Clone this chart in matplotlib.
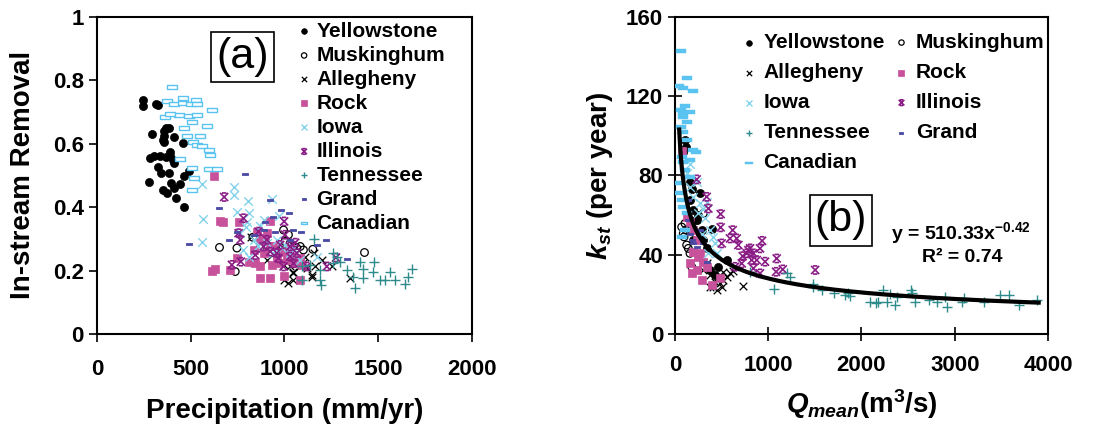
import matplotlib
matplotlib.use("Agg")
import matplotlib.pyplot as plt
import numpy as np
from matplotlib.path import Path

plt.rcParams["font.family"] = ["Liberation Sans", "DejaVu Sans"]
plt.rcParams["font.weight"] = "bold"
plt.rcParams["mathtext.fontset"] = "custom"
plt.rcParams["mathtext.it"] = "Liberation Sans:italic:bold"
plt.rcParams["mathtext.rm"] = "Liberation Sans:bold"
plt.rcParams["mathtext.bf"] = "Liberation Sans:bold"

# ---------------- panel (a): in-stream removal vs precipitation ----------------
a_yel_x = [245, 245, 316, 327, 293, 370, 356, 359, 382, 409, 352, 359, 457, 388, 284, 306, 338,
           370, 391, 405, 324, 341, 382, 409, 462, 489, 276, 350, 373, 395, 412, 441, 421, 462]
a_yel_y = [0.739, 0.72, 0.725, 0.722, 0.63, 0.65, 0.64, 0.623, 0.65, 0.62, 0.613, 0.604, 0.602,
           0.573, 0.555, 0.56, 0.562, 0.558, 0.56, 0.549, 0.526, 0.509, 0.509, 0.539, 0.499,
           0.513, 0.478, 0.455, 0.446, 0.476, 0.46, 0.474, 0.428, 0.4]

a_mus_x = [654, 738, 747, 832, 996, 1022, 1004, 1031, 1049, 987, 1085, 1102, 1152, 1428, 933, 871, 1067]
a_mus_y = [0.273, 0.197, 0.271, 0.305, 0.328, 0.313, 0.292, 0.286, 0.276, 0.265, 0.276, 0.265,
           0.267, 0.257, 0.257, 0.271, 0.271]

a_all_x = [821, 907, 996, 1031, 1049, 1049, 996, 1022, 1085, 1111, 1165, 1147, 1147, 1200, 1254,
           1351, 1156, 1102, 1049, 1120]
a_all_y = [0.305, 0.234, 0.218, 0.213, 0.197, 0.171, 0.171, 0.162, 0.213, 0.244, 0.213, 0.186,
           0.181, 0.234, 0.213, 0.176, 0.255, 0.223, 0.192, 0.207]

a_roc_x = [626, 658, 672, 756, 921, 853, 898, 907, 942, 996, 1031, 836, 889, 960, 1013, 1085, 1093,
           1058, 1049, 750, 809, 845, 613, 631, 708, 871, 933, 978, 921, 871, 996, 1085, 925, 871]
a_roc_y = [0.497, 0.357, 0.354, 0.352, 0.355, 0.321, 0.302, 0.318, 0.276, 0.26, 0.27, 0.265, 0.255,
           0.244, 0.234, 0.239, 0.218, 0.223, 0.244, 0.239, 0.228, 0.223, 0.2, 0.204, 0.202, 0.213,
           0.218, 0.223, 0.176, 0.176, 0.183, 0.171, 0.276, 0.297]

a_iow_x = [560, 729, 734, 805, 935, 565, 560, 747, 809, 800, 796, 871, 889, 974, 765, 836, 907, 960,
           1004, 782, 809, 1031, 1085, 1049, 1173, 942, 987, 862]
a_iow_y = [0.474, 0.462, 0.439, 0.418, 0.425, 0.362, 0.289, 0.386, 0.381, 0.352, 0.337, 0.339,
           0.358, 0.371, 0.318, 0.297, 0.286, 0.297, 0.281, 0.265, 0.244, 0.255, 0.234, 0.27,
           0.244, 0.255, 0.27, 0.276]

a_ill_x = [679, 782, 756, 765, 862, 999, 1004, 907, 978, 889, 925, 960, 1031, 1058, 1067, 845, 768,
           720, 996, 1120, 1227, 1276, 1049, 969, 1031]
a_ill_y = [0.432, 0.365, 0.318, 0.297, 0.323, 0.355, 0.313, 0.297, 0.281, 0.276, 0.26, 0.255, 0.276,
           0.288, 0.255, 0.249, 0.228, 0.218, 0.213, 0.213, 0.213, 0.241, 0.223, 0.239, 0.244]

a_ten_x = [1156, 1093, 1093, 1191, 1195, 1262, 1262, 1298, 1333, 1369, 1378, 1405, 1422, 1422, 1479,
           1476, 1511, 1538, 1565, 1591, 1645, 1662, 1680, 1191, 1138, 1280]
a_ten_y = [0.299, 0.213, 0.171, 0.171, 0.155, 0.255, 0.223, 0.228, 0.202, 0.181, 0.144, 0.228, 0.204,
           0.178, 0.228, 0.197, 0.171, 0.171, 0.197, 0.171, 0.158, 0.181, 0.204, 0.202, 0.218, 0.244]

a_gra_x = [791, 649, 489, 704, 747, 921, 981, 1024, 898, 951, 1045, 1088, 1223, 942, 889, 836, 1333,
           1173, 1031]
a_gra_y = [0.505, 0.397, 0.284, 0.297, 0.323, 0.421, 0.392, 0.383, 0.352, 0.323, 0.328, 0.323, 0.295,
           0.37, 0.328, 0.313, 0.236, 0.281, 0.297]

a_can_x = [400, 373, 409, 459, 459, 501, 530, 533, 436, 489, 533, 361, 391, 462, 480, 507, 548, 587,
           613, 512, 533, 560, 596, 605, 445, 507, 596, 640, 516, 507]
a_can_y = [0.778, 0.734, 0.726, 0.743, 0.728, 0.726, 0.739, 0.725, 0.692, 0.686, 0.692, 0.684, 0.694,
           0.649, 0.625, 0.667, 0.623, 0.655, 0.705, 0.605, 0.595, 0.592, 0.579, 0.563, 0.552,
           0.523, 0.52, 0.52, 0.492, 0.453]

# ---------------- panel (b): k_st vs Q_mean ----------------
b_yel_x = [107, 118, 82, 161, 179, 268, 161, 197, 233, 286, 394, 304, 340, 555, 465, 376, 429, 250, 197]
b_yel_y = [97.8, 94.4, 92, 76.8, 73.4, 70.9, 67.5, 62.5, 57.5, 52.4, 52.8, 47.4, 43.2, 37.3, 33.9,
           32.3, 29.7, 60, 47.4]

b_mus_x = [107, 118, 97, 125, 143, 161, 179, 72, 89, 233, 304, 268, 197]
b_mus_y = [55.8, 52.4, 49, 44.9, 43.2, 40.7, 33.9, 54, 50.7, 57.5, 60.8, 50.7, 59.1]

b_all_x = [304, 376, 411, 447, 483, 519, 555, 590, 626, 726, 465, 429, 340, 519, 376, 501]
b_all_y = [32.3, 29.7, 23.9, 22.2, 25.5, 27.2, 28.9, 30.6, 31.9, 24.2, 28.9, 26.4, 35.6, 31.4, 23.9, 23.9]

b_roc_x = [72, 125, 161, 197, 233, 197, 250, 304, 179, 233, 286, 394, 483, 340, 161, 268]
b_roc_y = [92.4, 59.1, 56.6, 52.4, 47.4, 41.5, 39, 36.5, 30.6, 32.3, 27.2, 24.7, 28.1, 33.9, 35.6, 40.7]

b_iow_x = [161, 125, 233, 340, 304, 250, 322, 376, 411, 429, 358, 447, 197, 268, 286, 161]
b_iow_y = [86, 81, 76.8, 66.7, 63.3, 60.8, 58.3, 52.4, 49, 45.7, 40.7, 40.7, 69.2, 65.9, 50.7, 74.3]

b_ill_x = [233, 358, 490, 490, 619, 590, 662, 680, 501, 726, 787, 805, 841, 823, 877, 912, 934, 966,
           841, 716, 912, 1091, 1084, 1156, 1503, 769, 644, 340]
b_ill_y = [78, 63.3, 60.5, 53.8, 52.4, 48.2, 48.2, 44.9, 45.7, 39.3, 42.3, 43.2, 40.7, 37.3, 37.3,
           43.2, 47, 36.5, 33.1, 35.6, 30.6, 38.1, 31.4, 32.6, 32.3, 40.7, 33.9, 69.2]

b_ten_x = [1234, 1063, 1199, 1478, 1485, 1700, 1825, 1878, 1860, 2093, 2157, 2236, 2182, 2272, 2308,
           2361, 2379, 2530, 2540, 2576, 2719, 2809, 2898, 2916, 3077, 3488, 3578, 3685, 3882, 3310,
           3095, 805, 1574]
b_ten_y = [28.6, 22.5, 30.6, 25.2, 23.9, 20.5, 19.7, 19.2, 20.5, 16.3, 15.8, 22.2, 16.3, 16.3, 20.2,
           14.6, 18.8, 22.2, 20.5, 16.3, 17.1, 16.3, 18.8, 13.8, 16.3, 19.7, 19.7, 14.6, 17.1, 16.3,
           18, 31.4, 22.2]

b_gra_x = [107, 143, 161, 197, 233, 304, 340, 143, 179, 268]
b_gra_y = [60.8, 57.5, 50.7, 45.7, 44, 45.7, 36.5, 67.5, 47.4, 52.4]

b_can_x = [61, 125, 47, 89, 197, 107, 61, 89, 161, 82, 125, 61, 89, 125, 225, 72, 89, 107, 161, 54,
           54, 72, 89, 125, 107, 72, 161, 197]
b_can_y = [142.6, 129, 125, 124, 122.6, 115, 113, 111.5, 112, 109.5, 107, 104.5, 102, 97.8, 92, 89.4,
           86.9, 82.7, 79.3, 76, 71, 67.5, 64, 60.8, 52.4, 49, 87.7, 92.7]

# power-law fit shown on panel (b)
fit_a = 510.33
fit_b = -0.42
fit_xmin, fit_xmax = 45, 3900

names = ["Yellowstone", "Muskinghum", "Allegheny", "Rock", "Iowa", "Illinois",
         "Tennessee", "Grand", "Canadian"]

# marker shapes
star_x = Path([(-1, -1), (1, 1), (-1, 1), (1, -1), (-0.55, 1), (0.55, 1), (-0.55, -1), (0.55, -1)],
              [Path.MOVETO, Path.LINETO, Path.MOVETO, Path.LINETO,
               Path.MOVETO, Path.LINETO, Path.MOVETO, Path.LINETO])
bar_box = Path([(-1, -0.35), (1, -0.35), (1, 0.35), (-1, 0.35), (-1, -0.35)])
dash = Path([(-1, -0.3), (1, -0.3), (1, 0.3), (-1, 0.3), (-1, -0.3)])

PINK = "#C8519C"
PURPLE = "#8A1C86"
LBLUE = "#85D3EA"
CBLUE = "#5BC3EF"
TEAL = "#2E8B8B"
GBLUE = "#4B4BA5"

styles = {
    "Yellowstone": dict(marker="o", s=34, c="black", edgecolors="black", linewidths=0.5),
    "Muskinghum": dict(marker="o", s=30, facecolors="none", edgecolors="black", linewidths=0.9),
    "Allegheny": dict(marker="x", s=30, c="black", linewidths=0.9),
    "Rock": dict(marker="s", s=38, c=PINK, edgecolors=PINK, linewidths=0.5),
    "Iowa": dict(marker="x", s=38, c=LBLUE, linewidths=1.0),
    "Illinois": dict(marker=star_x, s=34, facecolors="none", edgecolors=PURPLE, linewidths=1.2),
    "Tennessee": dict(marker="+", s=42, c=TEAL, linewidths=1.0),
    "Grand": dict(marker=dash, s=16, c=GBLUE, edgecolors=GBLUE, linewidths=0.6),
}
can_a = dict(marker=bar_box, s=48, facecolors="white", edgecolors=CBLUE, linewidths=1.0)
can_b = dict(marker=dash, s=60, c=CBLUE, edgecolors=CBLUE, linewidths=0.3)

fig = plt.figure(figsize=(11.02, 4.28), dpi=100)
ax1 = fig.add_axes([0.088, 0.2196, 0.340, 0.741])
ax2 = fig.add_axes([0.6125, 0.2196, 0.3385, 0.741])

series_a = [(a_yel_x, a_yel_y), (a_mus_x, a_mus_y), (a_all_x, a_all_y), (a_roc_x, a_roc_y),
            (a_iow_x, a_iow_y), (a_ill_x, a_ill_y), (a_ten_x, a_ten_y), (a_gra_x, a_gra_y),
            (a_can_x, a_can_y)]
series_b = [(b_yel_x, b_yel_y), (b_mus_x, b_mus_y), (b_all_x, b_all_y), (b_roc_x, b_roc_y),
            (b_iow_x, b_iow_y), (b_ill_x, b_ill_y), (b_ten_x, b_ten_y), (b_gra_x, b_gra_y),
            (b_can_x, b_can_y)]

handles_a, handles_b = [], []
for name, (xa, ya), (xb, yb) in zip(names, series_a, series_b):
    sa = can_a if name == "Canadian" else styles[name]
    sb = can_b if name == "Canadian" else styles[name]
    handles_a.append(ax1.scatter(xa, ya, label=name, zorder=3, **sa))
    handles_b.append(ax2.scatter(xb, yb, label=name, zorder=3, **sb))

fx = np.linspace(fit_xmin, fit_xmax, 400)
ax2.plot(fx, fit_a * fx ** fit_b, color="black", lw=3, zorder=4)

# axes styling
for ax in (ax1, ax2):
    for sp in ax.spines.values():
        sp.set_linewidth(1.5)
        sp.set_color("black")
    ax.tick_params(labelsize=16, width=1.2, length=6)

ax1.set_xlim(0, 2000)
ax1.set_ylim(0, 1)
ax1.set_xticks([0, 500, 1000, 1500, 2000])
ax1.set_yticks([0, 0.2, 0.4, 0.6, 0.8, 1])
ax1.set_yticklabels(["0", "0.2", "0.4", "0.6", "0.8", "1"])
ax1.tick_params(axis="x", direction="out", pad=12)
ax1.tick_params(axis="y", direction="out")
ax1.set_xlabel("Precipitation (mm/yr)", fontsize=20, fontweight="bold", labelpad=13)
ax1.set_ylabel("In-stream Removal", fontsize=20, fontweight="bold", labelpad=12)

ax2.set_xlim(0, 4000)
ax2.set_ylim(0, 160)
ax2.set_xticks([0, 1000, 2000, 3000, 4000])
ax2.set_yticks([0, 40, 80, 120, 160])
ax2.tick_params(axis="both", direction="inout", length=10)
ax2.tick_params(axis="x", pad=10)
ax2.set_xlabel(r"$Q_{mean}$(m$^3$/s)", fontsize=20, fontweight="bold", labelpad=8)
ax2.set_ylabel(r"$k_{st}$ (per year)", fontsize=20, fontweight="bold", labelpad=8)

for lab in ax1.get_xticklabels() + ax1.get_yticklabels() + ax2.get_xticklabels() + ax2.get_yticklabels():
    lab.set_fontweight("bold")

# legends
ax1.legend(handles=handles_a, loc="upper left", bbox_to_anchor=(0.5, 1.03), frameon=False,
           prop=dict(size=15, weight="bold"), handlelength=0.5, handletextpad=0.35,
           labelspacing=0.24, borderpad=0.2, markerscale=0.7)

order = [0, 2, 4, 6, 8, 1, 3, 5, 7]
ax2.legend(handles=[handles_b[i] for i in order], loc="upper left", bbox_to_anchor=(0.145, 0.995),
           ncol=2, frameon=False, prop=dict(size=15, weight="bold"), handlelength=0.5,
           handletextpad=0.45, labelspacing=0.53, columnspacing=0.55, borderpad=0.2, markerscale=0.7)

# panel tags and fit equation
box = dict(boxstyle="square,pad=0.12", facecolor="white", edgecolor="black", linewidth=1.2)
ax1.text(0.388, 0.874, "(a)", transform=ax1.transAxes, fontsize=31, fontweight="normal",
         ha="center", va="center", bbox=box)
ax2.text(0.445, 0.358, "(b)", transform=ax2.transAxes, fontsize=31, fontweight="normal",
         ha="center", va="center", bbox=box)
ax2.text(0.767, 0.318, r"y = 510.33x$^{\mathbf{-0.42}}$", transform=ax2.transAxes, fontsize=14,
         fontweight="bold", ha="center", va="center")
ax2.text(0.77, 0.24, "R² = 0.74", transform=ax2.transAxes, fontsize=14,
         fontweight="bold", ha="center", va="center")

fig.savefig("out.png", dpi=100)
